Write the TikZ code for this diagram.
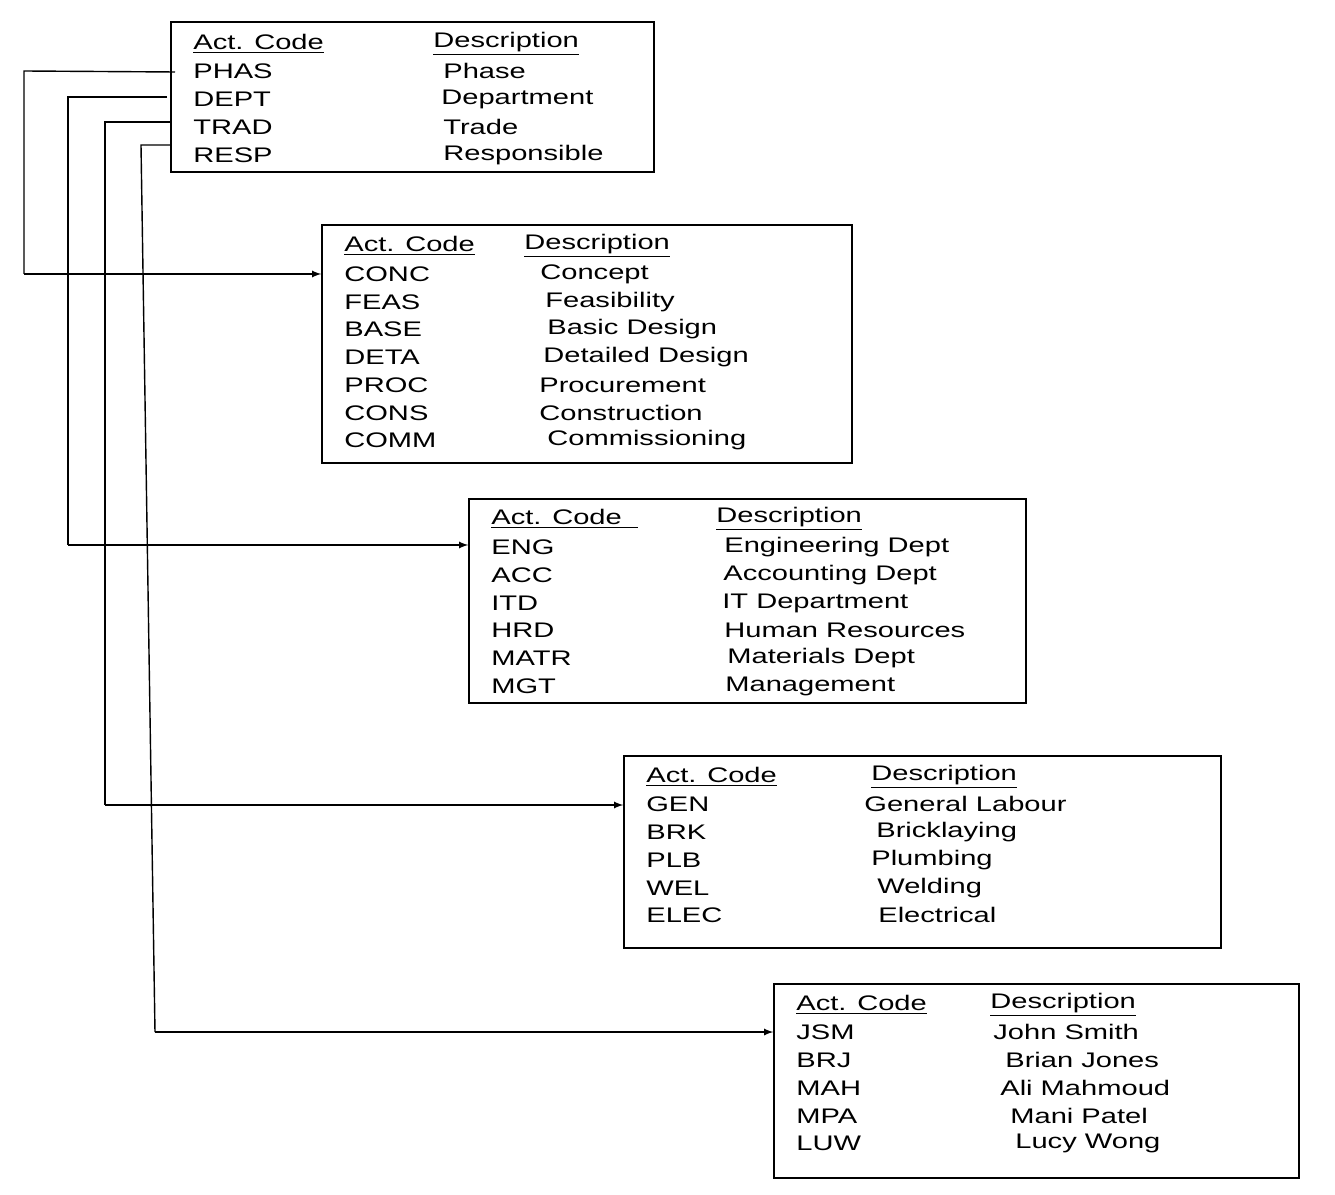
\documentclass[tikz,border=0pt]{standalone}
\usepackage{fontspec}
\setmainfont{Liberation Sans}[FakeStretch=1.38]
\usetikzlibrary{fit,arrows}

\tikzset{
  box/.style={draw, thick, inner sep=0pt},
  code/.style={anchor=west, inner sep=0pt, font=\fontsize{12}{14}\selectfont},
  link/.style={thick},
  linkarrow/.style={thick, -latex}
}

\begin{document}
\begin{tikzpicture}[x=0.02cm, y=-0.02cm]
        \useasboundingbox (0,0) rectangle (1335,1195);

        % phase / department / trade / responsible
        \node[box, fit={(171,22) (654,172)}] (codes) {};
        \node[code] (h1a) at (193,44) {\underline{Act. Code}};
        \node[code] (h1b) at (433,44) {\underline{Description}};
        \node[code] (phas) at (193,71) {PHAS};
        \node[code] (dept) at (193,99) {DEPT};
        \node[code] (trad) at (193,127) {TRAD};
        \node[code] (resp) at (193,155) {RESP};
        \node[code] (phasd) at (443,71) {Phase};
        \node[code] (deptd) at (441,99) {Department};
        \node[code] (tradd) at (443,127) {Trade};
        \node[code] (respd) at (443,155) {Responsible};

        % phases
        \node[box, fit={(322,225) (852,463)}] (phases) {};
        \node[code] (h2a) at (344,246) {\underline{Act. Code}};
        \node[code] (h2b) at (524,246) {\underline{Description}};
        \node[code] (conc) at (344,274) {CONC};
        \node[code] (feas) at (344,302) {FEAS};
        \node[code] (base) at (344,329) {BASE};
        \node[code] (deta) at (344,357) {DETA};
        \node[code] (proc) at (344,385) {PROC};
        \node[code] (cons) at (344,413) {CONS};
        \node[code] (comm) at (344,440) {COMM};
        \node[code] (concd) at (540,274) {Concept};
        \node[code] (feasd) at (545,302) {Feasibility};
        \node[code] (based) at (547,329) {Basic Design};
        \node[code] (detad) at (543,357) {Detailed Design};
        \node[code] (procd) at (539,385) {Procurement};
        \node[code] (consd) at (539,413) {Construction};
        \node[code] (commd) at (547,440) {Commissioning};

        % departments
        \node[box, fit={(469,499) (1026,703)}] (depts) {};
        \node[code] (h3a) at (491,519) {\underline{Act. Code\ \ }};
        \node[code] (h3b) at (716,519) {\underline{Description}};
        \node[code] (eng) at (491,547) {ENG};
        \node[code] (acc) at (491,575) {ACC};
        \node[code] (itd) at (491,603) {ITD};
        \node[code] (hrd) at (491,630) {HRD};
        \node[code] (matr) at (491,658) {MATR};
        \node[code] (mgt) at (491,686) {MGT};
        \node[code] (engd) at (724,547) {Engineering Dept};
        \node[code] (accd) at (723,575) {Accounting Dept};
        \node[code] (itdd) at (722,603) {IT Department};
        \node[code] (hrdd) at (724,630) {Human Resources};
        \node[code] (matrd) at (727,658) {Materials Dept};
        \node[code] (mgtd) at (725,686) {Management};

        % trades
        \node[box, fit={(624,756) (1221,948)}] (trades) {};
        \node[code] (h4a) at (646,777) {\underline{Act. Code}};
        \node[code] (h4b) at (871,777) {\underline{Description}};
        \node[code] (gen) at (646,804) {GEN};
        \node[code] (brk) at (646,832) {BRK};
        \node[code] (plb) at (646,860) {PLB};
        \node[code] (wel) at (646,888) {WEL};
        \node[code] (elec) at (646,915) {ELEC};
        \node[code] (gend) at (864,804) {General Labour};
        \node[code] (brkd) at (876,832) {Bricklaying};
        \node[code] (plbd) at (871,860) {Plumbing};
        \node[code] (weld) at (877,888) {Welding};
        \node[code] (elecd) at (878,915) {Electrical};

        % responsible
        \node[box, fit={(774,984) (1299,1178)}] (people) {};
        \node[code] (h5a) at (796,1005) {\underline{Act. Code}};
        \node[code] (h5b) at (990,1005) {\underline{Description}};
        \node[code] (jsm) at (796,1032) {JSM};
        \node[code] (brj) at (796,1060) {BRJ};
        \node[code] (mah) at (796,1088) {MAH};
        \node[code] (mpa) at (796,1116) {MPA};
        \node[code] (luw) at (796,1143) {LUW};
        \node[code] (jsmd) at (993,1032) {John Smith};
        \node[code] (brjd) at (1005,1060) {Brian Jones};
        \node[code] (mahd) at (1000,1088) {Ali Mahmoud};
        \node[code] (mpad) at (1010,1116) {Mani Patel};
        \node[code] (luwd) at (1015,1143) {Lucy Wong};

        % connectors
        \coordinate (p0) at (175,72);
        \coordinate (d0) at (167,97);
        \coordinate (t0) at (170,122);
        \coordinate (r0) at (170,145);
        \coordinate (r1) at (141,145);
        \coordinate (r2) at (155,1032);

        \draw[link] (p0) -- (24,71) -- (24,274);
        \draw[linkarrow] (24,274) -- (phases.west |- 0,274);
        \draw[link] (d0) -- (68,97) -- (68,545);
        \draw[linkarrow] (68,545) -- (depts.west |- 0,545);
        \draw[link] (t0) -- (105,122) -- (105,805);
        \draw[linkarrow] (105,805) -- (trades.west |- 0,805);
        \draw[link] (r0) -- (r1) -- (r2);
        \draw[linkarrow] (r2) -- (people.west |- r2);

\end{tikzpicture}
\end{document}
